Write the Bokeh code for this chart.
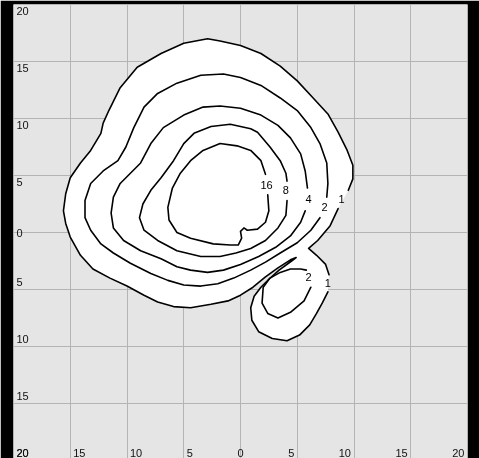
from bokeh.plotting import figure
from bokeh.models import Range1d, Grid, FixedTicker, LabelSet, ColumnDataSource
from bokeh.core.properties import value
from bokeh.embed import file_html
from bokeh.resources import INLINE

# ---- data ----
tick_values = [-20, -15, -10, -5, 0, 5, 10, 15, 20]
tick_labels = ["20", "15", "10", "5", "0", "5", "10", "15", "20"]

# contour level 1 (outer), split at its two labels
c1_a = [(8.6, 2.1), (7.9, 0.6), (6.8, -0.7), (6.0, -1.4), (6.7, -2.0), (7.5, -2.8), (7.8, -3.7)]
c1_b = [(7.7, -5.2), (7.2, -6.2), (6.7, -7.1), (6.1, -8.1), (5.2, -9.0), (4.1, -9.5), (2.8, -9.3),
        (1.6, -8.7), (1.0, -7.7), (0.9, -6.6), (1.2, -5.6), (1.8, -4.8), (2.5, -4.1), (3.4, -3.3),
        (4.5, -2.5), (4.9, -2.2), (4.4, -2.4), (3.3, -3.1), (2.2, -3.9), (1.1, -4.8), (0.0, -5.5),
        (-1.1, -6.0), (-2.6, -6.3), (-4.4, -6.6), (-5.9, -6.5), (-7.3, -6.1), (-8.5, -5.5),
        (-10.0, -4.7), (-11.5, -4.0), (-13.0, -3.2), (-14.1, -2.0), (-15.0, -0.4), (-15.4, 0.8),
        (-15.6, 1.9), (-15.4, 3.4), (-15.0, 4.8), (-14.1, 6.1), (-13.2, 7.2), (-12.3, 8.7),
        (-12.1, 9.6), (-11.6, 10.7), (-10.6, 12.7), (-9.1, 14.5), (-7.0, 15.7), (-5.0, 16.6),
        (-2.9, 17.0), (-1.8, 16.8), (0.0, 16.4), (1.8, 15.7), (3.5, 14.6), (5.0, 13.3), (6.4, 11.8),
        (7.7, 10.4), (8.6, 8.8), (9.4, 7.2), (9.9, 5.9), (9.9, 4.7), (9.5, 3.7)]
# contour level 2, upper body
c2_up = [(7.0, 1.3), (6.2, 0.2), (5.0, -0.9), (3.5, -1.8), (2.2, -2.6), (0.9, -3.3), (-0.6, -4.0),
         (-2.0, -4.5), (-3.5, -4.7), (-5.0, -4.6), (-6.4, -4.2), (-7.9, -3.6), (-9.7, -2.7),
         (-11.2, -1.8), (-12.3, -1.0), (-13.2, 0.2), (-13.7, 1.3), (-13.7, 2.8), (-13.2, 4.3),
         (-12.1, 5.4), (-10.8, 6.3), (-10.1, 7.5), (-9.4, 9.2), (-8.5, 11.0), (-7.3, 12.2),
         (-5.6, 13.1), (-3.5, 13.8), (-1.5, 13.9), (0.0, 13.6), (1.8, 12.9), (3.5, 11.8), (5.0, 10.7),
         (6.2, 9.2), (7.0, 7.8), (7.6, 6.1), (7.7, 4.3), (7.6, 3.1)]
# contour level 2, lower lobe
c2_low = [(6.2, -4.8), (5.6, -6.0), (4.4, -7.0), (3.3, -7.5), (2.4, -7.1), (1.9, -6.2), (2.0, -4.8),
          (2.6, -4.0), (3.5, -3.5), (4.4, -3.2), (5.3, -3.2), (5.8, -3.3)]
# contour level 4
c4 = [(5.7, 1.9), (5.3, 0.9), (4.4, -0.3), (3.1, -1.3), (1.6, -2.1), (0.0, -2.8), (-1.5, -3.3),
      (-2.9, -3.5), (-4.4, -3.3), (-5.6, -3.0), (-7.0, -2.3), (-8.8, -1.6), (-10.3, -0.7),
      (-11.2, 0.4), (-11.4, 1.7), (-11.2, 3.1), (-10.6, 4.3), (-9.7, 5.2), (-8.8, 6.1), (-7.9, 7.8),
      (-6.8, 9.2), (-5.0, 10.3), (-3.3, 11.0), (-1.8, 11.1), (0.0, 10.9), (1.8, 10.3), (3.3, 9.4),
      (4.4, 8.3), (5.3, 6.9), (5.7, 5.4), (5.9, 3.9)]
# contour level 8
c8 = [(4.1, 2.8), (4.0, 1.5), (3.3, 0.4), (2.2, -0.7), (0.9, -1.4), (-0.4, -1.8), (-1.8, -2.1),
      (-3.5, -2.1), (-5.6, -1.6), (-7.3, -0.7), (-8.5, 0.2), (-8.9, 1.3), (-8.6, 2.5), (-7.9, 3.7),
      (-7.0, 4.8), (-5.9, 6.3), (-5.0, 7.8), (-4.1, 8.7), (-2.6, 9.3), (-0.9, 9.5), (0.9, 9.1),
      (1.5, 8.8), (2.6, 7.5), (3.5, 6.3), (4.0, 5.2), (4.1, 4.5)]
# contour level 16
c16 = [(2.4, 3.3), (2.5, 1.9), (2.2, 0.9), (1.5, 0.3), (0.6, 0.2), (0.3, 0.4), (0.0, 0.1),
       (0.1, -0.5), (-0.2, -1.1), (-0.9, -1.1), (-2.4, -1.0), (-4.4, -0.5), (-5.6, 0.0),
       (-6.3, 1.1), (-6.4, 2.2), (-6.0, 3.9), (-5.3, 5.2), (-4.4, 6.3), (-3.3, 7.2), (-1.8, 7.8),
       (-0.3, 7.6), (0.9, 7.2), (1.8, 6.3), (2.2, 5.1)]

label_text = ["16", "8", "4", "2", "1", "2", "1"]
label_x = [2.3, 4.0, 6.0, 7.4, 8.9, 6.0, 7.7]
label_y = [4.2, 3.7, 2.9, 2.2, 2.9, -3.9, -4.4]

# ---- figure ----
GRAY_BG = "#e5e5e5"
GRID = "#b4b4b4"
FONT = value("Liberation Sans")

p = figure(width=479, height=460, x_range=Range1d(-20, 20), y_range=Range1d(-20, 20),
           x_axis_type=None, y_axis_type=None, output_backend="svg", toolbar_location=None,
           min_border_left=13, min_border_right=12, min_border_top=4, min_border_bottom=0,
           background_fill_color=GRAY_BG, border_fill_color="black", outline_line_color=None)
p.styles = {"position": "fixed", "left": "0px", "top": "0px"}

inner = [t for t in tick_values if t not in (tick_values[0], tick_values[-1], 0)]
for dim in (0, 1):
    p.add_layout(Grid(dimension=dim, ticker=FixedTicker(ticks=inner), bounds=(-20, 20),
                      grid_line_color=GRID, grid_line_width=1))
p.add_layout(Grid(dimension=1, ticker=FixedTicker(ticks=[0]), bounds=(-18.8, 20),
                  grid_line_color=GRID, grid_line_width=1))
p.add_layout(Grid(dimension=0, ticker=FixedTicker(ticks=[0]), bounds=(-18.5, 20),
                  grid_line_color=GRID, grid_line_width=1))

# white interior of the outer contour
outer = c1_a + c1_b
p.patch([q[0] for q in outer], [q[1] for q in outer], fill_color="white", line_color=None)

paths = [c1_a, c1_b, c2_up, c2_low, c4, c8, c16]
p.multi_line(xs=[[q[0] for q in path] for path in paths],
             ys=[[q[1] for q in path] for path in paths],
             line_color="black", line_width=1.6, line_join="round", line_cap="round")

p.add_layout(LabelSet(source=ColumnDataSource(dict(x=label_x, y=label_y, t=label_text)),
                      x="x", y="y", text="t", text_align="center", text_baseline="middle",
                      text_font=FONT, text_font_size="11px", text_color="black"))

# tick labels drawn inside the frame
lo, hi = tick_values[0], tick_values[-1]
def tl(vals, texts, axis, align, baseline, xo, yo):
    if axis == "x":
        d = dict(x=vals, y=[lo] * len(vals), t=texts)
    else:
        d = dict(x=[lo] * len(vals), y=vals, t=texts)
    p.add_layout(LabelSet(source=ColumnDataSource(d), x="x", y="y", text="t",
                          text_align=align, text_baseline=baseline, x_offset=xo, y_offset=yo,
                          text_font=FONT, text_font_size="11px", text_color="#111111"))

neg = [(v, t) for v, t in zip(tick_values, tick_labels) if v < 0]
pos = [(v, t) for v, t in zip(tick_values, tick_labels) if v > 0]
zer = [(v, t) for v, t in zip(tick_values, tick_labels) if v == 0]
un = lambda s: ([a for a, b in s], [b for a, b in s])

# x axis labels (bottom)
tl(*un(neg), "x", "left", "alphabetic", 3, 4)
tl(*un(zer), "x", "center", "alphabetic", 0, 4)
tl(*un(pos), "x", "right", "alphabetic", -3, 4)
# y axis labels (left)
tl(*un(neg), "y", "left", "alphabetic", 3, 4)
tl(*un(zer), "y", "left", "middle", 3, 0)
tl(*un(pos), "y", "left", "top", 3, -2)

open("out.html", "w").write(file_html(p, INLINE))
